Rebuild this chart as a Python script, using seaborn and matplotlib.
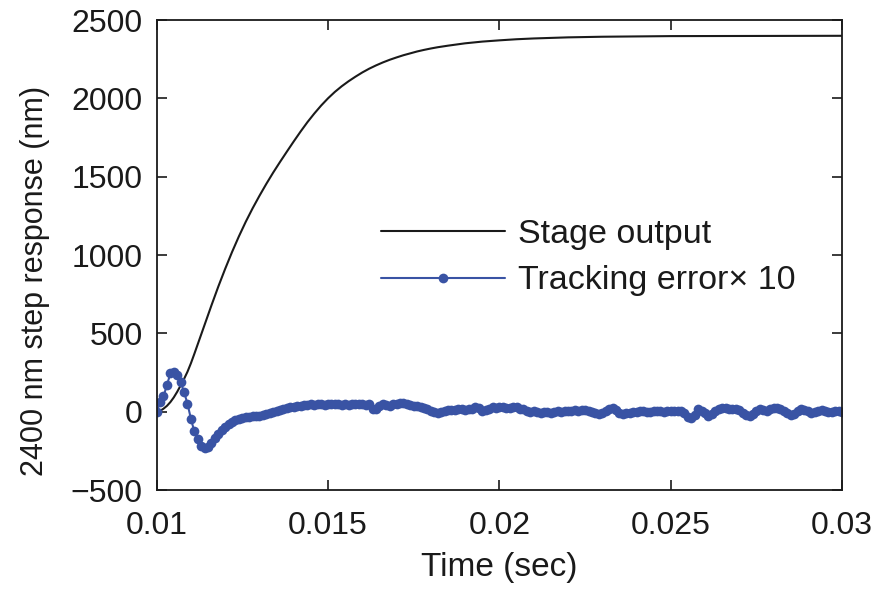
import numpy as np
import pandas as pd
import matplotlib
matplotlib.use("Agg")
import matplotlib.pyplot as plt
import seaborn as sns

# Stage output (nm)
stage_time = [0.0100, 0.0101, 0.0102, 0.0103, 0.0104, 0.0105, 0.0106, 0.0107, 0.0108,
              0.0109, 0.0110, 0.0111, 0.0112, 0.0114, 0.0116, 0.0118, 0.0120, 0.0122,
              0.0124, 0.0126, 0.0128, 0.0130, 0.0132, 0.0134, 0.0136, 0.0138, 0.0140,
              0.0142, 0.0144, 0.0146, 0.0148, 0.0150, 0.0152, 0.0154, 0.0156, 0.0158,
              0.0160, 0.0162, 0.0164, 0.0166, 0.0168, 0.0170, 0.0172, 0.0174, 0.0176,
              0.0178, 0.0180, 0.0182, 0.0185, 0.0190, 0.0195, 0.0200, 0.0205, 0.0210,
              0.0220, 0.0230, 0.0250, 0.0300]
stage_output = [0, 6, 20, 38, 62, 92, 128, 168, 210,
                256, 310, 370, 432, 556, 680, 800, 913, 1020,
                1120, 1213, 1299, 1379, 1455, 1527, 1595, 1661, 1726,
                1789, 1849, 1904, 1955, 2001, 2042, 2078, 2110, 2139,
                2166, 2190, 2211, 2230, 2247, 2262, 2276, 2288, 2300,
                2310, 2319, 2327, 2337, 2352, 2363, 2371, 2378, 2383,
                2390, 2394, 2398, 2400]

# Tracking error x10 (nm), sampled every 0.1 ms
error_time = [round(0.01 + 0.0001 * i, 4) for i in range(201)]
tracking_error = [
    0, 60, 100, 170, 245, 255, 235, 190, 126, 52,
    -45, -125, -175, -215, -228, -225, -196, -165, -143, -115,
    -95, -80, -65, -55, -48, -40, -35, -30, -27, -27,
    -25, -22, -15, -8, 0, 5, 12, 18, 25, 30,
    34, 37, 40, 42, 45, 48, 46, 50, 48, 45,
    48, 50, 52, 48, 46, 50, 45, 48, 50, 47,
    48, 46, 48, 20, 15, 35, 48, 45, 40, 48,
    52, 55, 58, 52, 45, 40, 37, 30, 25, 15,
    5, -2, -5, 0, 8, 11, 14, 10, 16, 18,
    12, 16, 20, 29, 24, 3, 10, 20, 29, 25,
    28, 29, 26, 22, 29, 28, 20, 15, 8, 1,
    5, 0, -5, -3, 2, -5, 0, 5, 2, 5,
    8, 5, 11, 8, 12, 11, 5, 1, -5, -12,
    -8, 5, 20, 27, 10, -5, -16, -10, -5, 0,
    1, 3, 5, 1, 0, 5, 8, 5, 2, 5,
    5, 3, 5, 8, -10, -30, -37, -20, 16, 5,
    -5, -27, -15, 5, 20, 27, 22, 16, 18, 16,
    10, -5, -20, -27, -15, 5, 16, 10, 8, 20,
    27, 25, 18, 5, -10, -22, -15, 5, 16, 10,
    5, -5, -2, 5, 10, 5, -2, 0, 5, 3,
    0]

x_ticks = [0.01, 0.015, 0.02, 0.025, 0.03]
x_tick_labels = ["0.01", "0.015", "0.02", "0.025", "0.03"]
y_ticks = [-500, 0, 500, 1000, 1500, 2000, 2500]

sns.set_style("ticks")
plt.rcParams['font.family'] = ['Liberation Sans', 'DejaVu Sans']
plt.rcParams['axes.unicode_minus'] = True

TXT = "#1a1a1a"
BLUE = "#3953A4"

fig = plt.figure(figsize=(8.8, 5.92), dpi=100)
ax = fig.add_axes([0.178, 0.172, 0.779, 0.794])

stage_df = pd.DataFrame({"t": stage_time, "y": stage_output})
err_df = pd.DataFrame({"t": error_time, "y": tracking_error})

sns.lineplot(data=stage_df, x="t", y="y", ax=ax, color=TXT, linewidth=1.5,
             label="Stage output")
sns.lineplot(data=err_df, x="t", y="y", ax=ax, color=BLUE, linewidth=1.5,
             marker="o", markersize=7, markeredgewidth=0,
             label="Tracking error\u00d7 10")

ax.set_xlim(0.01, 0.03)
ax.set_ylim(-500, 2500)
ax.set_xticks(x_ticks)
ax.set_xticklabels(x_tick_labels)
ax.set_yticks(y_ticks)
ax.tick_params(direction="in", top=True, right=True, length=7, width=1.2,
               labelsize=23, colors=TXT)
ax.tick_params(axis="x", pad=15)
ax.tick_params(axis="y", pad=10)
for s in ax.spines.values():
    s.set_linewidth(1.3)
    s.set_color(TXT)

ax.set_xlabel("Time (sec)", fontsize=24, color=TXT, labelpad=8)
ax.set_ylabel("2400 nm step response (nm)", fontsize=22, color=TXT)
ax.yaxis.set_label_coords(-0.155, 0.445)

leg = ax.legend(loc="center left", bbox_to_anchor=(0.327, 0.495), frameon=False,
                fontsize=24.5, handlelength=3.65, numpoints=1, handletextpad=0.38,
                labelspacing=0.47, markerscale=1.0, borderpad=0, borderaxespad=0)
for t in leg.get_texts():
    t.set_color(TXT)

fig.savefig("out.png", dpi=100)
